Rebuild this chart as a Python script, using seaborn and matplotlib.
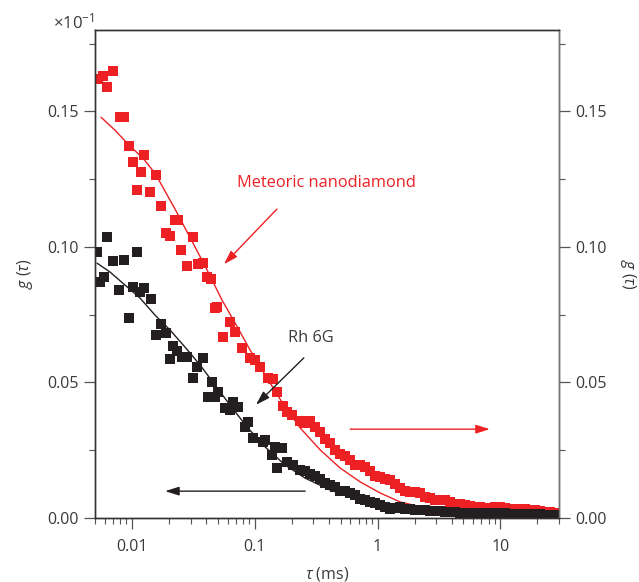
import matplotlib
matplotlib.use("Agg")
import matplotlib.pyplot as plt
import seaborn as sns
import pandas as pd
from matplotlib.ticker import MultipleLocator, FixedLocator, LogLocator, NullFormatter

# Meteoric nanodiamond (red, right axis)
nd_tau = [0.00529, 0.00581, 0.00626, 0.00701, 0.00799, 0.00862, 0.00946, 0.0102, 0.0110,
          0.01186, 0.01254, 0.01403, 0.01571, 0.01726, 0.01895, 0.02043, 0.02244, 0.02373,
          0.02511, 0.0281, 0.03146, 0.03454, 0.03795, 0.04091, 0.0441, 0.04753, 0.04934,
          0.05523, 0.06297, 0.06918, 0.07889, 0.09167, 0.1007, 0.1106, 0.1285, 0.1411,
          0.1521, 0.1703, 0.1835, 0.2016,
          0.234, 0.257, 0.283, 0.310, 0.341, 0.375, 0.411, 0.452, 0.496, 0.545, 0.599,
          0.658, 0.722, 0.793, 0.871, 0.957, 1.05, 1.15, 1.27, 1.39, 1.53, 1.68, 1.85,
          2.03, 2.23, 2.45, 2.69, 2.95, 3.24, 3.56, 3.91, 4.30, 4.72, 5.18, 5.69, 6.25,
          6.87, 7.54, 8.28, 9.10, 9.99, 11.0, 12.1, 13.2, 14.5, 16.0, 17.5, 19.3, 21.2,
          23.3, 25.5, 28.0]
nd_g = [0.1621, 0.1632, 0.1588, 0.1647, 0.1478, 0.1478, 0.1371, 0.1312, 0.1209,
        0.1275, 0.1338, 0.1201, 0.1264, 0.1150, 0.1050, 0.1039, 0.1098, 0.1098,
        0.0988, 0.0929, 0.1035, 0.0936, 0.0940, 0.0888, 0.0881, 0.0774, 0.0778,
        0.0667, 0.0722, 0.0685, 0.0626, 0.0590, 0.0582, 0.0556, 0.0516, 0.0512,
        0.0464, 0.0413, 0.0391, 0.0380,
        0.0357, 0.0350, 0.0357, 0.0335, 0.0317, 0.0291, 0.0276, 0.0251, 0.0236, 0.0228, 0.0214,
        0.0195, 0.0195, 0.0188, 0.0173, 0.0155, 0.0151, 0.0144, 0.0140, 0.0125, 0.0111, 0.0099, 0.0096,
        0.0096, 0.0092, 0.0077, 0.0074, 0.0066, 0.0066, 0.0066, 0.0059, 0.0052, 0.0052, 0.0048, 0.0044, 0.0041,
        0.0041, 0.0037, 0.0037, 0.0041, 0.0041, 0.0037, 0.0033, 0.0033, 0.0033, 0.0033, 0.0029, 0.0029, 0.0026,
        0.0022, 0.0022, 0.0018]

nd_fit_tau = [0.0056, 0.00728, 0.00946, 0.0123, 0.01542, 0.0186, 0.02244, 0.02707, 0.03266,
              0.0394, 0.04753, 0.0542, 0.06918, 0.09167, 0.1215, 0.1703, 0.2342, 0.341,
              0.4963, 0.7223, 1.051, 1.530, 2.687, 5.692, 14.54, 29.7]
nd_fit_g = [0.1478, 0.1430, 0.1375, 0.1327, 0.1271, 0.1205, 0.1139, 0.1069, 0.0999,
            0.0929, 0.0855, 0.0803, 0.0719, 0.0619, 0.0527, 0.0420, 0.0332, 0.0251,
            0.0184, 0.0133, 0.0092, 0.0059, 0.0033, 0.0015, 0.0004, 0.0]

# Rh 6G (black, left axis)
rh_tau = [0.00519, 0.00549, 0.00592, 0.00626, 0.00701, 0.00785, 0.00862, 0.00946, 0.0102,
          0.0110, 0.01163, 0.01254, 0.0143, 0.01571, 0.01726, 0.01895, 0.02043, 0.02161,
          0.02329, 0.02559, 0.0281, 0.03146, 0.03391, 0.03795, 0.04168, 0.04493, 0.04753,
          0.05027, 0.05735, 0.06297, 0.06664, 0.07318, 0.08347, 0.08829, 0.09698, 0.117,
          0.1215, 0.1385, 0.1466, 0.1521, 0.1671, 0.1835, 0.2054,
          0.234, 0.257, 0.283, 0.310, 0.341, 0.375, 0.411, 0.452, 0.496, 0.545, 0.599,
          0.658, 0.722, 0.793, 0.871, 0.957, 1.05, 1.15, 1.27, 1.39, 1.53, 1.68, 1.85,
          2.03, 2.23, 2.45, 2.69, 2.95, 3.24, 3.56, 3.91, 4.30, 4.72, 5.18, 5.69, 6.25,
          6.87, 7.54, 8.28, 9.10, 9.99, 11.0, 12.1, 13.2, 14.5, 16.0, 17.5, 19.3, 21.2,
          23.3, 25.5, 28.0]
rh_g = [0.0980, 0.0870, 0.0888, 0.1035, 0.0947, 0.0840, 0.0951, 0.0737, 0.0851,
        0.0980, 0.0833, 0.0848, 0.0807, 0.0674, 0.0715, 0.0682, 0.0586, 0.0634,
        0.0615, 0.0593, 0.0593, 0.0516, 0.0556, 0.0590, 0.0446, 0.0501, 0.0446,
        0.0464, 0.0405, 0.0398, 0.0427, 0.0409, 0.0335, 0.0354, 0.0295, 0.0280,
        0.0287, 0.0232, 0.0262, 0.0184, 0.0258, 0.0206, 0.0195,
        0.0177, 0.0173, 0.0162, 0.0155, 0.0144, 0.0129, 0.0122, 0.0114, 0.0099, 0.0099, 0.0092,
        0.0085, 0.0070, 0.0066, 0.0059, 0.0055, 0.0048, 0.0041, 0.0033, 0.0037, 0.0041, 0.0033, 0.0033,
        0.0029, 0.0029, 0.0029, 0.0026, 0.0026, 0.0026, 0.0022, 0.0022, 0.0022, 0.0018, 0.0018, 0.0018, 0.0018,
        0.0018, 0.0018, 0.0018, 0.0018, 0.0018, 0.0018, 0.0015, 0.0015, 0.0015, 0.0015, 0.0015, 0.0015, 0.0015,
        0.0011, 0.0011, 0.0011]

rh_fit_tau = [0.00519, 0.00663, 0.00878, 0.01163, 0.01542, 0.02043, 0.02707, 0.03587, 0.04753,
              0.06297, 0.08665, 0.1215, 0.1768, 0.2573, 0.4114, 0.7223, 1.530, 3.910, 9.99, 29.7]
rh_fit_g = [0.0940, 0.0907, 0.0859, 0.0811, 0.0748, 0.0693, 0.0630, 0.0564, 0.0490,
            0.0416, 0.0335, 0.0262, 0.0195, 0.0147, 0.0103, 0.0066, 0.0037, 0.0018, 0.0007, 0.0004]

x_ticks = [0.01, 0.1, 1, 10]
x_ticklabels = ["0.01", "0.1", "1", "10"]
y_ticks = [0.00, 0.05, 0.10, 0.15]
y_ticklabels = ["0.00", "0.05", "0.10", "0.15"]

RED = "#ed2024"
BLACK = "#231f20"
GREY = "#3a3a3a"

sns.set_theme(style="ticks")
plt.rcParams["font.family"] = ["Open Sans", "DejaVu Sans"]
plt.rcParams["mathtext.fontset"] = "custom"
plt.rcParams["mathtext.rm"] = "Open Sans"
plt.rcParams["mathtext.it"] = "Open Sans:italic"

fig = plt.figure(figsize=(6.39, 5.82), dpi=100)
ax = fig.add_axes([0.1487, 0.110, 0.7261, 0.8385])

nd = pd.DataFrame({"tau": nd_tau, "g": nd_g})
rh = pd.DataFrame({"tau": rh_tau, "g": rh_g})
nd_fit = pd.DataFrame({"tau": nd_fit_tau, "g": nd_fit_g})
rh_fit = pd.DataFrame({"tau": rh_fit_tau, "g": rh_fit_g})

sns.scatterplot(data=nd, x="tau", y="g", marker="s", s=58, color=RED, linewidth=0, ax=ax, zorder=2)
sns.lineplot(data=nd_fit, x="tau", y="g", color=RED, lw=1.0, sort=False, estimator=None, ax=ax, zorder=3)
sns.scatterplot(data=rh, x="tau", y="g", marker="s", s=58, color=BLACK, linewidth=0, ax=ax, zorder=4)
sns.lineplot(data=rh_fit, x="tau", y="g", color=BLACK, lw=1.0, sort=False, estimator=None, ax=ax, zorder=5)

ax.set_xscale("log")
ax.set_xlim(0.005, 30)
ax.set_ylim(0, 0.18)
ax.xaxis.set_major_locator(FixedLocator(x_ticks))
ax.set_xticklabels(x_ticklabels)
ax.xaxis.set_minor_locator(LogLocator(base=10, subs=range(2, 10), numticks=20))
ax.xaxis.set_minor_formatter(NullFormatter())
ax.set_yticks(y_ticks)
ax.set_yticklabels(y_ticklabels)
ax.yaxis.set_minor_locator(MultipleLocator(0.025))

ax.set_xlabel(r"$\tau$ (ms)", fontsize=11.5, color=GREY, va="center")
ax.xaxis.set_label_coords(0.5, -0.115)
ax.set_ylabel(r"$g$ ($\tau$)", fontsize=11.5, color=GREY, va="center")
ax.yaxis.set_label_coords(-0.151, 0.5)

ax2 = ax.twinx()
ax2.set_ylim(ax.get_ylim())
ax2.set_yticks(y_ticks)
ax2.set_yticklabels(y_ticklabels)
ax2.yaxis.set_minor_locator(MultipleLocator(0.025))
ax2.set_ylabel(r"$g$ ($\tau$)", fontsize=11.5, color=GREY, rotation=270, va="center")
ax2.yaxis.set_label_coords(1.148, 0.5)

for a in (ax, ax2):
    a.tick_params(which="major", direction="out", length=8, width=0.9, color="#555555",
                  labelsize=11.5, labelcolor=GREY, pad=4)
    a.tick_params(which="minor", direction="out", length=4.5, width=0.8, color="#555555")
    for sp in a.spines.values():
        sp.set_linewidth(1.0)
        sp.set_color("#333333")
ax2.spines["right"].set_color("#777777")
ax.tick_params(axis="x", which="major", pad=7)
ax.tick_params(top=False, which="both")
ax2.tick_params(top=False, which="both")

ax.text(-0.09, 1.016, r"$\times10^{-1}$", transform=ax.transAxes, fontsize=12, color=GREY,
        ha="left", va="center")

ax.text(0.306, 0.686, "Meteoric nanodiamond", transform=ax.transAxes, fontsize=11.8,
        color=RED, ha="left", va="center")
ax.text(0.416, 0.369, "Rh 6G", transform=ax.transAxes, fontsize=11.8,
        color=GREY, ha="left", va="center")

arrow_kw = dict(arrowstyle="-|>,head_length=0.7,head_width=0.22", lw=1.0, shrinkA=0, shrinkB=0)
ax.annotate("", xy=(0.278, 0.520), xytext=(0.392, 0.633), xycoords="axes fraction",
            arrowprops=dict(color=RED, **arrow_kw))
ax.annotate("", xy=(0.347, 0.232), xytext=(0.450, 0.328), xycoords="axes fraction",
            arrowprops=dict(color=BLACK, **arrow_kw))
ax.annotate("", xy=(0.151, 0.055), xytext=(0.453, 0.055), xycoords="axes fraction",
            arrowprops=dict(color=BLACK, **arrow_kw))
ax.annotate("", xy=(0.851, 0.182), xytext=(0.550, 0.182), xycoords="axes fraction",
            arrowprops=dict(color=RED, **arrow_kw))

fig.savefig("out.png", dpi=100)
plt.close(fig)
